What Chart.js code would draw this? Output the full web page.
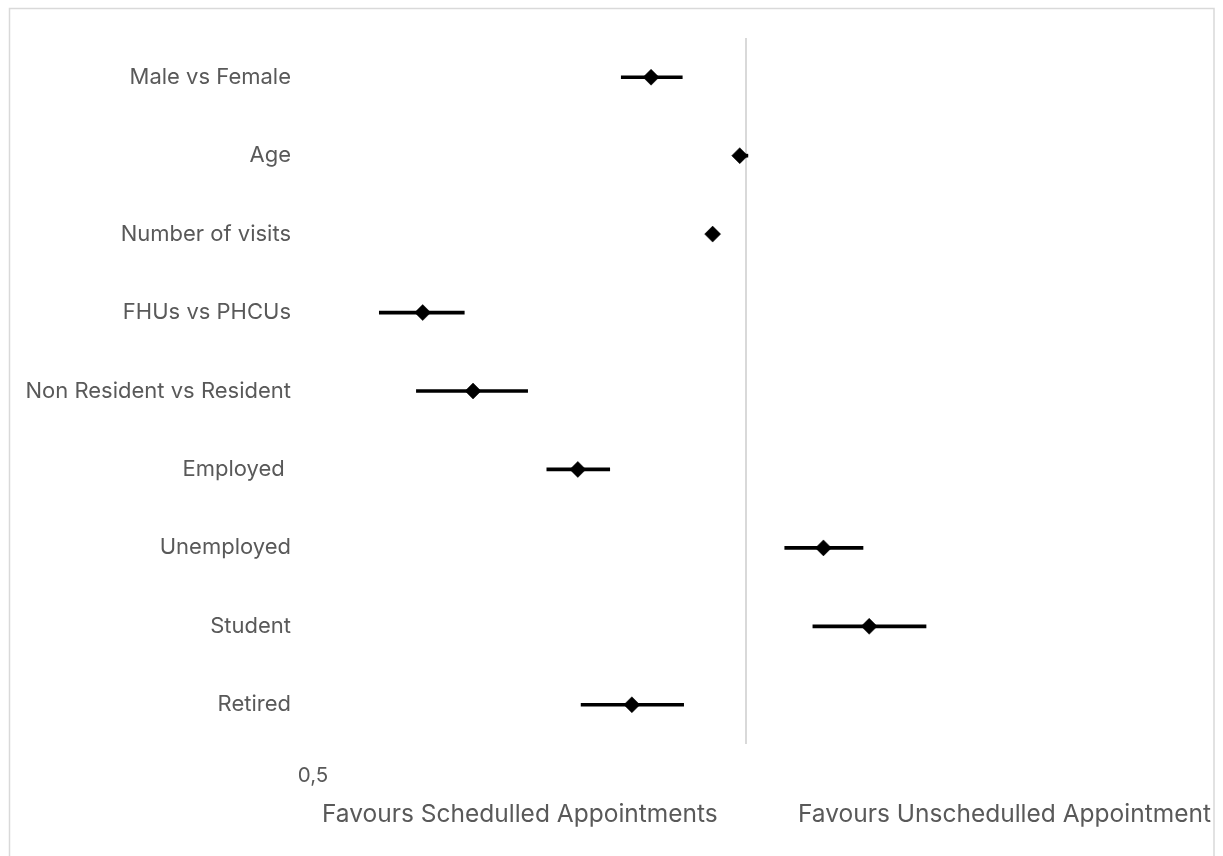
<!DOCTYPE html>
<html>
<head>
<meta charset="utf-8">
<script src="https://cdn.jsdelivr.net/npm/chart.js@4/dist/chart.umd.min.js"></script>
<style>
  html, body { margin: 0; padding: 0; background: #ffffff; }
  #wrap { width: 1223px; height: 856px; }
</style>
</head>
<body>
<div id="wrap"><canvas id="c" width="1223" height="856"></canvas></div>
<script>
const categories = ["Male vs Female", "Age", "Number of visits", "FHUs vs PHCUs", "Non Resident vs Resident", "Employed ", "Unemployed", "Student", "Retired"];
const oddsRatio = [0.859, 0.990, 0.948, 0.596, 0.646, 0.764, 1.132, 1.218, 0.833];
const ciLower   = [0.819, 0.985, 0.940, 0.556, 0.590, 0.727, 1.064, 1.113, 0.768];
const ciUpper   = [0.903, 1.003, 0.955, 0.637, 0.705, 0.804, 1.206, 1.334, 0.905];
const xTickValues = [0.5, 1];
const xTickLabels = ["0,5", ""];
const xMin = 0.5, xMax = 2;
const footLeft = "Favours Schedulled Appointments";
const footRight = "Favours Unschedulled Appointment";

const FONT = "Inter, 'Liberation Sans', Arial, sans-serif";
const GREY = "#595959";

const ciBars = categories.map((c, i) => [ciLower[i], ciUpper[i]]);

const framePlugin = {
  id: 'frame',
  beforeDraw(chart) {
    const ctx = chart.ctx;
    ctx.save();
    ctx.fillStyle = '#ffffff';
    ctx.fillRect(0, 0, chart.width, chart.height);
    ctx.strokeStyle = '#d9d9d9';
    ctx.lineWidth = 1.5;
    ctx.strokeRect(9.5, 8.5, 1204.5, 900);
    ctx.restore();
  },
  afterDraw(chart) {
    const ctx = chart.ctx;
    ctx.save();
    ctx.fillStyle = GREY;
    ctx.font = "24.5px " + FONT;
    ctx.textBaseline = 'alphabetic';
    ctx.textAlign = 'left';
    ctx.fillText(footLeft, 322, 822);
    ctx.beginPath();
    ctx.rect(0, 0, 1213, 856);
    ctx.clip();
    ctx.fillText(footRight, 798, 822);
    ctx.restore();
  }
};

new Chart(document.getElementById('c'), {
  data: {
    labels: categories,
    datasets: [
      {
        type: 'line',
        label: 'Odds ratio',
        data: oddsRatio,
        showLine: false,
        pointStyle: 'rectRot',
        pointRadius: 8,
        pointHoverRadius: 8,
        pointBackgroundColor: '#000000',
        pointBorderColor: '#000000',
        pointBorderWidth: 0.5,
        order: 0
      },
      {
        type: 'bar',
        label: '95% CI',
        data: ciBars,
        backgroundColor: '#000000',
        borderWidth: 0,
        barThickness: 3,
        borderSkipped: false,
        order: 1
      }
    ]
  },
  options: {
    indexAxis: 'y',
    responsive: false,
    animation: false,
    layout: { padding: { top: 38, right: 44, left: 0, bottom: 0 } },
    plugins: { legend: { display: false }, tooltip: { enabled: false } },
    scales: {
      x: {
        type: 'logarithmic',
        position: 'bottom',
        min: xMin,
        max: xMax,
        afterBuildTicks(axis) { axis.ticks = xTickValues.map(v => ({ value: v })); },
        afterFit(scale) { scale.height = 112; },
        ticks: {
          autoSkip: false,
          maxRotation: 0,
          padding: 20,
          color: GREY,
          font: { family: FONT, size: 20.5 },
          callback(value) {
            const i = xTickValues.indexOf(value);
            return i >= 0 ? xTickLabels[i] : '';
          }
        },
        grid: {
          drawTicks: false,
          lineWidth: 2,
          color(ctx) { return (ctx.tick && ctx.tick.value === 1) ? '#d9d9d9' : 'rgba(0,0,0,0)'; }
        },
        border: { display: false }
      },
      y: {
        type: 'category',
        position: 'left',
        offset: true,
        afterFit(scale) { scale.width = 313; },
        ticks: {
          padding: 22,
          color: GREY,
          font: { family: FONT, size: 22 },
          autoSkip: false
        },
        grid: { display: false, drawTicks: false },
        border: { display: false }
      }
    }
  },
  plugins: [framePlugin]
});
</script>
</body>
</html>
